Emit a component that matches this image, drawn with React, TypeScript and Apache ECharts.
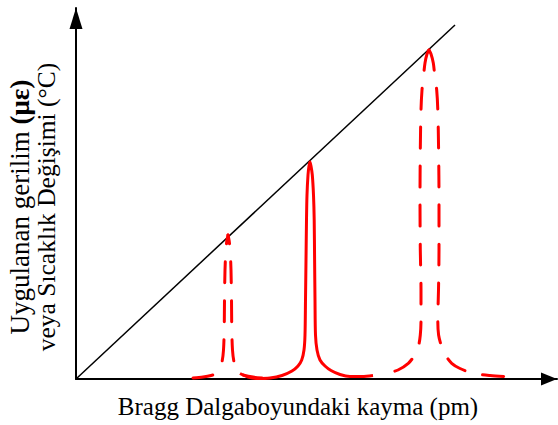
import React, { useEffect, useRef } from "react";
import * as echarts from "echarts";

// Diagram extents (data units, origin at the axes' crossing)
const xMax = 481;
const yMax = 371;

const diagonal: [number, number][] = [
  [0, 0],
  [379, 354],
];

const peak1: [number, number][] = [
  [117, 1], [127, 2], [135, 3.5], [140, 5.5], [143.5, 10], [146, 17], [147.5, 29],
  [148.2, 49], [148.5, 79], [149, 109], [149.8, 127], [150.8, 138], [152, 144],
  [153.2, 138], [154.2, 127], [155, 109], [155.5, 79], [155.8, 49], [156.5, 29],
  [158, 17], [160.5, 10], [164, 5.5], [169, 3.5], [177, 2], [186, 1],
];

const peak2: [number, number][] = [
  [164, 5.5], [172, 2], [182, 0.5], [194, 1], [206, 3.5], [216, 8], [222, 13],
  [225.7, 19], [228, 29], [229, 44], [229.5, 79], [230, 119], [230.5, 159], [231, 184],
  [232, 204], [233, 213], [234, 217], [235, 213], [236.3, 204], [237.5, 184], [238.2, 159],
  [238.6, 119], [239, 79], [239.5, 44], [241, 29], [244, 19], [249, 13], [255, 8.5],
  [264, 4.5], [274, 2.5], [286, 2.5], [297, 3.5],
];

const peak3: [number, number][] = [
  [311, 5.7], [322, 9], [332.3, 15.7], [338, 23], [342.3, 32.3], [344.3, 44],
  [345, 59], [345, 89], [344.3, 129], [344, 179], [344.3, 229], [345, 269], [346, 289],
  [347.3, 301], [349, 316], [351, 325], [353, 329], [355, 325], [357.3, 316], [359, 301],
  [360.7, 289], [361.8, 269], [362.6, 229], [363, 179], [363, 129], [362.5, 89],
  [361.8, 59], [362.6, 44], [365.7, 32.3], [370, 23], [375.7, 15.7], [384, 10.5],
  [397.3, 5.7], [414, 3.5], [434, 2.3],
];

const xLabel = "Bragg Dalgaboyundaki kayma (pm)";
const yLabelLine1 = "Uygulanan gerilim ";
const yLabelBold1 = "(με)";
const yLabelLine2 = "veya Sıcaklık Değişimi (°C)";

const ORIGIN_X = 76;
const ORIGIN_Y = 379;

// split a peak at its apex; both halves run outward from the apex
function halves(pts: [number, number][]) {
  let k = 0;
  pts.forEach((p, i) => {
    if (p[1] > pts[k][1]) k = i;
  });
  return [pts.slice(0, k + 1).reverse(), pts.slice(k)];
}

export default function App() {
  const ref = useRef<HTMLDivElement>(null);
  useEffect(() => {
    if (!ref.current) return;
    const chart = echarts.init(ref.current, undefined, { renderer: "svg" });
    const font = "'Liberation Serif', 'Times New Roman', serif";
    const red = "#ff0000";
    const dashed = (data: [number, number][], offset: number) => ({
      type: "line",
      data,
      symbol: "none",
      smooth: 0.3,
      clip: false,
      lineStyle: { color: red, width: 3, type: [21, 18], dashOffset: offset, cap: "round" },
    });
    const [p1a, p1b] = halves(peak1);
    const [p3a, p3b] = halves(peak3);
    chart.setOption({
      animation: false,
      backgroundColor: "#ffffff",
      grid: { left: ORIGIN_X, top: ORIGIN_Y - yMax, width: xMax, height: yMax },
      xAxis: {
        type: "value",
        min: 0,
        max: xMax,
        axisLine: {
          show: true,
          symbol: ["none", "triangle"],
          symbolSize: [13, 16],
          symbolOffset: [0, -8],
          lineStyle: { color: "#000", width: 2 },
        },
        axisTick: { show: false },
        axisLabel: { show: false },
        splitLine: { show: false },
      },
      yAxis: {
        type: "value",
        min: 0,
        max: yMax,
        axisLine: {
          show: true,
          symbol: ["none", "triangle"],
          symbolSize: [13, 21],
          symbolOffset: [0, -10.5],
          lineStyle: { color: "#000", width: 2 },
        },
        axisTick: { show: false },
        axisLabel: { show: false },
        splitLine: { show: false },
      },
      series: [
        {
          type: "line",
          data: diagonal,
          symbol: "none",
          clip: false,
          lineStyle: { color: "#000", width: 1.5 },
        },
        dashed(p1a, 11.5),
        dashed(p1b, 11.5),
        {
          type: "line",
          data: peak2,
          symbol: "none",
          smooth: 0.3,
          clip: false,
          lineStyle: { color: red, width: 3 },
        },
        dashed(p3a, 0),
        dashed(p3b, 0),
      ],
      graphic: [
        {
          type: "text",
          x: 298,
          y: 406,
          style: {
            text: xLabel,
            fontFamily: font,
            fontSize: 25,
            fill: "#000",
            align: "center",
            verticalAlign: "middle",
          },
        },
        {
          type: "text",
          x: 33,
          y: 207,
          rotation: Math.PI / 2,
          style: {
            text: `{a|${yLabelLine1}}{b|${yLabelBold1}}\n{c|${yLabelLine2}}`,
            fontFamily: font,
            fontSize: 26,
            lineHeight: 27,
            fill: "#000",
            align: "center",
            verticalAlign: "middle",
            rich: {
              a: { fontFamily: font, fontSize: 27, fill: "#000", lineHeight: 27 },
              b: { fontFamily: font, fontSize: 27, fontWeight: "bold", fill: "#000", lineHeight: 27 },
              c: { fontFamily: font, fontSize: 25.5, fill: "#000", lineHeight: 27 },
            },
          },
        },
      ],
    });
    return () => chart.dispose();
  }, []);
  return (
    <div
      ref={ref}
      style={{ position: "absolute", left: 0, top: 0, width: 558, height: 425 }}
    />
  );
}
